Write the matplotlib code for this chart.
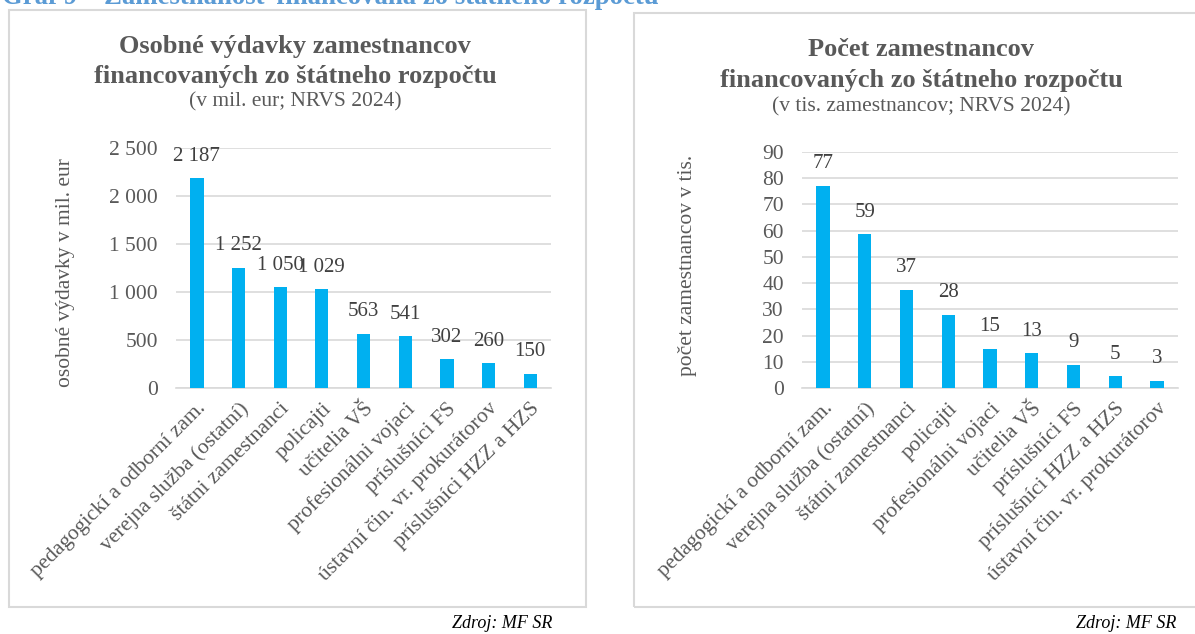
import matplotlib
matplotlib.use("Agg")
import matplotlib.pyplot as plt
from matplotlib.patches import Rectangle

plt.rcParams['font.family'] = ['Liberation Serif', 'DejaVu Serif']

# data
kat_vydavky = ['pedagogickí a odborní zam.', 'verejna služba (ostatní)', 'štátni zamestnanci',
               'policajti', 'učitelia VŠ', 'profesionálni vojaci', 'príslušníci FS',
               'ústavní čin. vr. prokurátorov', 'príslušníci HZZ a HZS']
vydavky = [2187, 1252, 1050, 1029, 563, 541, 302, 260, 150]

kat_pocet = ['pedagogickí a odborní zam.', 'verejna služba (ostatní)', 'štátni zamestnanci',
             'policajti', 'profesionálni vojaci', 'učitelia VŠ', 'príslušníci FS',
             'príslušníci HZZ a HZS', 'ústavní čin. vr. prokurátorov']
pocet = [77.1, 58.6, 37.4, 27.9, 15.0, 13.3, 8.8, 4.5, 2.7]

W, H = 1195, 634
modra = '#00B0F0'
siva = '#595959'
tmava = '#404040'

fig = plt.figure(figsize=(W / 100, H / 100), dpi=100)


def px(x0, y0, x1, y1):
    # pixelove suradnice (zhora) -> suradnice figure
    return [x0 / W, 1 - y1 / H, (x1 - x0) / W, (y1 - y0) / H]


def sformatuj(v):
    # zaokruhlenie nahor od polovice, medzera ako oddelovac tisicov
    return f'{int(v + 0.5):,}'.replace(',', ' ')


def kresli(ax, kat, hodnoty, ymax, krok, ylabel):
    x = range(len(kat))
    ax.bar(x, hodnoty, width=0.32, color=modra, zorder=3)
    ax.set_xlim(-0.5, len(kat) - 0.5)
    ax.set_ylim(0, ymax)
    ax.set_yticks(range(0, ymax + 1, krok))
    ax.set_yticklabels([sformatuj(t) for t in range(0, ymax + 1, krok)], fontsize=15.5, color=siva)
    ax.set_xticks(list(x))
    ax.set_xticklabels(kat, rotation=45, ha='right', rotation_mode='anchor', fontsize=15.5, color=siva)
    ax.tick_params(axis='y', length=0, pad=13)
    ax.tick_params(axis='x', length=0, pad=8)
    ax.grid(axis='y', color='#d9d9d9', linewidth=1.2, zorder=0)
    for s in ['top', 'right', 'left']:
        ax.spines[s].set_visible(False)
    ax.spines['bottom'].set_color('#d9d9d9')
    ax.spines['bottom'].set_linewidth(1.2)
    for i, v in enumerate(hodnoty):
        ax.annotate(sformatuj(v), (i, v), xytext=(0, 9), textcoords='offset points',
                    ha='center', va='bottom', fontsize=15, color=tmava)
    ax.set_ylabel(ylabel, fontsize=15.5, color=siva)


def nadpis(xc, y1, y2, y3, riadok1, riadok2, podnadpis):
    fig.text(xc / W, 1 - y1 / H, riadok1, ha='center', va='center', fontsize=19,
             fontweight='bold', color=siva)
    fig.text(xc / W, 1 - y2 / H, riadok2, ha='center', va='center', fontsize=19,
             fontweight='bold', color=siva)
    fig.text(xc / W, 1 - y3 / H, podnadpis, ha='center', va='center', fontsize=15.5, color=siva)


# ramiky panelov
fig.patches.append(Rectangle((9 / W, 1 - 607 / H), 577 / W, 597 / H, transform=fig.transFigure,
                             fill=False, edgecolor='#d9d9d9', linewidth=1.5))
fig.patches.append(Rectangle((634 / W, 1 - 607 / H), 600 / W, 594 / H, transform=fig.transFigure,
                             fill=False, edgecolor='#d9d9d9', linewidth=1.5))

# hlavny nadpis (orezany hore)
fig.text(2 / W, 1 - 4 / H, 'Graf 9 – Zamestnanosť financovaná zo štátneho rozpočtu',
         fontsize=19.3, fontweight='bold', color='#5B9BD5', ha='left', va='baseline')

# lavy graf
ax1 = fig.add_axes(px(176, 148, 551, 388))
kresli(ax1, kat_vydavky, vydavky, 2500, 500, 'osobné výdavky v mil. eur')
ax1.yaxis.set_label_coords(-0.27, 0.48)
nadpis(295, 47, 77, 102, 'Osobné výdavky zamestnancov', 'financovaných zo štátneho rozpočtu',
       '(v mil. eur; NRVS 2024)')
fig.text(552 / W, 1 - 624 / H, 'Zdroj: MF SR', ha='right', va='center', fontsize=13,
         style='italic', color='black')

# pravy graf
ax2 = fig.add_axes(px(802, 152, 1178, 388))
kresli(ax2, kat_pocet, pocet, 90, 10, 'počet zamestnancov v tis.')
ax2.yaxis.set_label_coords(-0.28, 0.52)
nadpis(921, 50, 80, 107, 'Počet zamestnancov', 'financovaných zo štátneho rozpočtu',
       '(v tis. zamestnancov; NRVS 2024)')
fig.text(1176 / W, 1 - 624 / H, 'Zdroj: MF SR', ha='right', va='center', fontsize=13,
         style='italic', color='black')

fig.savefig('out.png', dpi=100)
